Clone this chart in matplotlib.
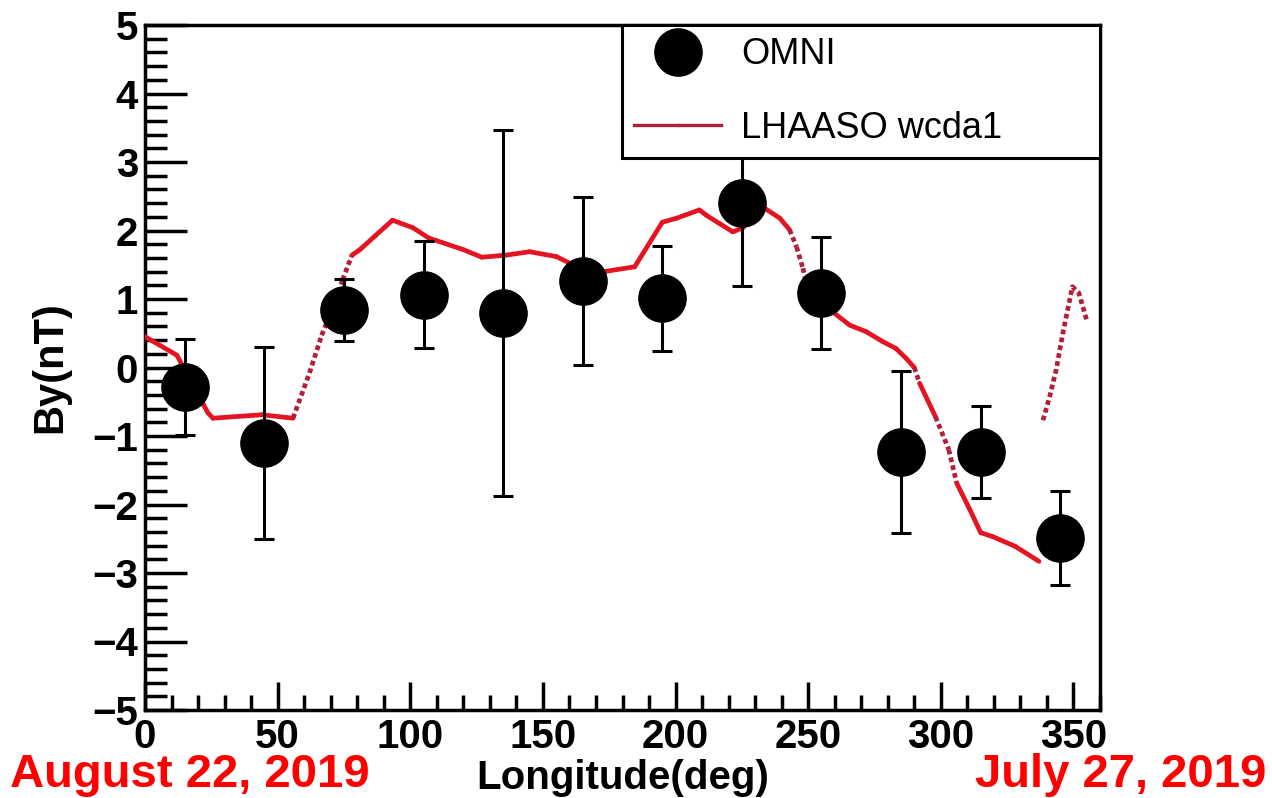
import numpy as np
import matplotlib
matplotlib.use("Agg")
import matplotlib.pyplot as plt
from matplotlib.lines import Line2D

# OMNI points (longitude bins of 30 deg)
omni_lon = [15, 45, 75, 105, 135, 165, 195, 225, 255, 285, 315, 345]
omni_by = [-0.28, -1.10, 0.84, 1.06, 0.79, 1.26, 1.01, 2.40, 1.09, -1.23, -1.23, -2.49]
omni_err = [0.70, 1.40, 0.45, 0.78, 2.67, 1.23, 0.77, 1.21, 0.82, 1.18, 0.67, 0.68]

# LHAASO wcda1 curve (main part)
lh_lon = [0, 12, 23.7, 25.6, 44, 55.8, 62, 66.6, 70.8, 74.5, 78, 81, 87, 93.3, 101,
          107, 120, 127, 136, 145, 155, 163, 171.4, 184.6, 195, 200.4, 209, 211.7,
          221.6, 225.4, 233, 239.3, 243, 245.6, 248, 249.4, 259.3, 265.6, 272, 278,
          283, 287, 290, 292, 298, 303, 306, 311, 315, 319.6, 328, 337]
lh_by = [0.45, 0.18, -0.66, -0.74, -0.69, -0.74, -0.08, 0.47, 0.88, 1.28, 1.64, 1.72,
         1.93, 2.15, 2.04, 1.89, 1.72, 1.61, 1.64, 1.69, 1.62, 1.47, 1.39, 1.47, 2.12,
         2.18, 2.30, 2.22, 1.98, 2.04, 2.34, 2.18, 2.01, 1.76, 1.45, 1.23, 0.81, 0.62,
         0.52, 0.38, 0.28, 0.13, 0.0, -0.23, -0.72, -1.20, -1.69, -2.08, -2.41, -2.47,
         -2.61, -2.83]

# LHAASO wcda1 last piece (separate branch)
lh2_lon = [338.5, 341, 343.5, 346, 349.6, 352, 355]
lh2_by = [-0.77, -0.43, -0.03, 0.50, 1.18, 1.09, 0.69]

RED = "#e41422"
DARKRED = "#b0203a"

plt.rcParams['font.family'] = ['Liberation Sans', 'DejaVu Sans']

fig = plt.figure(figsize=(12.72, 7.98), dpi=100)
ax = fig.add_axes([145 / 1272, 1 - 710 / 798, 955 / 1272, 685 / 798])

# red curve: solid on gentle parts, dotted where steep
x = np.array(lh_lon)
y = np.array(lh_by)
slope = np.abs(np.diff(y) / np.diff(x))
for i in range(len(x) - 1):
    steep = slope[i] > 0.095
    ax.plot(x[i:i + 2], y[i:i + 2],
            color=DARKRED if steep else RED,
            lw=3.4,
            ls=(0, (1.0, 0.7)) if steep else '-',
            solid_capstyle='round', zorder=3)
ax.plot(lh2_lon, lh2_by, color=DARKRED, lw=3.4, ls=(0, (1.0, 0.7)), zorder=3)

# OMNI points with error bars
ax.errorbar(omni_lon, omni_by, yerr=omni_err, fmt='o', color='black',
            markersize=34, elinewidth=2.2, capsize=7.5, capthick=2.2, zorder=4)

ax.set_xlim(0, 360)
ax.set_ylim(-5, 5)
ax.set_xticks(np.arange(0, 351, 50))
ax.set_xticks(np.arange(0, 361, 10), minor=True)
ax.set_yticks(np.arange(-5, 6, 1))
ax.set_yticks(np.arange(-5, 5.01, 0.2), minor=True)
ax.tick_params(axis='both', which='both', direction='in', top=False, right=False,
               width=2.5, labelsize=29)
ax.tick_params(axis='x', which='major', length=20, pad=6)
ax.tick_params(axis='x', which='minor', length=11)
ax.tick_params(axis='y', which='major', length=30, pad=5)
ax.tick_params(axis='y', which='minor', length=16)
for lab in ax.get_xticklabels() + ax.get_yticklabels():
    lab.set_fontweight('bold')
for sp in ax.spines.values():
    sp.set_linewidth(2.5)

ax.set_xlabel('Longitude(deg)', fontsize=29, fontweight='bold', labelpad=2)
ax.set_ylabel('By(nT)', fontsize=30, fontweight='bold', labelpad=16)

# legend
h_omni = Line2D([], [], marker='o', color='black', ls='none', markersize=34)
h_lh = Line2D([], [], color=DARKRED, lw=2.4, marker='.', markersize=3)
leg = ax.legend([h_omni, h_lh], ['OMNI', 'LHAASO wcda1'], loc='upper left',
                bbox_to_anchor=(477 / 955, 0, 478 / 955, 1.0), mode='expand',
                borderaxespad=0, fontsize=26, fancybox=False, framealpha=1,
                edgecolor='black', borderpad=0.34, labelspacing=1.06,
                handlelength=2.4, handletextpad=0.55)
leg.get_frame().set_linewidth(2.2)
leg.set_zorder(10)

fig.text(10 / 1272, 1 - 787 / 798, 'August 22, 2019', color='#ff0000',
         fontsize=34, fontweight='bold', ha='left', va='baseline')
fig.text(1266 / 1272, 1 - 787 / 798, 'July 27, 2019', color='#ff0000',
         fontsize=34, fontweight='bold', ha='right', va='baseline')

fig.savefig('out.png', dpi=100)
